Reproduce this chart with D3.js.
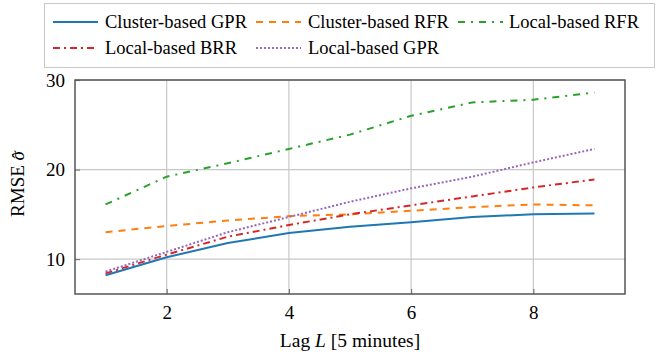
<!DOCTYPE html>
<html>
<head>
<meta charset="utf-8">
<script src="https://cdn.jsdelivr.net/npm/d3@7"></script>
<style>
  body { margin: 0; background: #fff; }
  text { font-family: "Liberation Serif", "DejaVu Serif", serif; }
</style>
</head>
<body>
<svg id="chart" width="661" height="354"></svg>
<script>
var lags = [1, 2, 3, 4, 5, 6, 7, 8, 9];

var clusterGPR = [8.2, 10.2, 11.8, 12.9, 13.6, 14.1, 14.7, 15.0, 15.1];
var clusterRFR = [13.0, 13.7, 14.3, 14.8, 15.0, 15.4, 15.8, 16.1, 16.0];
var localRFR   = [16.1, 19.2, 20.7, 22.3, 23.9, 26.0, 27.5, 27.8, 28.6];
var localBRR   = [8.4, 10.5, 12.5, 13.8, 15.0, 16.0, 17.0, 18.0, 18.9];
var localGPR   = [8.6, 10.8, 13.0, 14.7, 16.4, 17.9, 19.2, 20.8, 22.3];

var xTicks = [2, 4, 6, 8];
var yTicks = [10, 20, 30];

var series = [
  {name: "Cluster-based GPR", values: clusterGPR, color: "#1f77b4", dash: null},
  {name: "Cluster-based RFR", values: clusterRFR, color: "#ff7f0e", dash: "7,6"},
  {name: "Local-based RFR",   values: localRFR,   color: "#2ca02c", dash: "7,6,2,6"},
  {name: "Local-based BRR",   values: localBRR,   color: "#d62728", dash: "7,4,2,4"},
  {name: "Local-based GPR",   values: localGPR,   color: "#9467bd", dash: "2,2"}
];

var svg = d3.select("#chart"),
  pLeft = 75, pRight = 625, pTop = 80, pBottom = 294;

var x = d3.scaleLinear()
  .domain([0.5, 9.5])
  .range([pLeft, pRight]);

var y = d3.scaleLinear()
  .domain([6.1, 30])
  .range([pBottom, pTop]);

// grid
svg.append("g")
  .selectAll("line")
  .data(xTicks)
  .enter().append("line")
    .attr("x1", function(d){ return x(d); })
    .attr("x2", function(d){ return x(d); })
    .attr("y1", pTop)
    .attr("y2", pBottom)
    .attr("stroke", "#c8c8c8")
    .attr("stroke-width", 1.2);

svg.append("g")
  .selectAll("line")
  .data(yTicks)
  .enter().append("line")
    .attr("x1", pLeft)
    .attr("x2", pRight)
    .attr("y1", function(d){ return y(d); })
    .attr("y2", function(d){ return y(d); })
    .attr("stroke", "#c8c8c8")
    .attr("stroke-width", 1.2);

// axes with inward ticks
var xAxis = svg.append("g")
  .attr("transform", "translate(0," + pBottom + ")")
  .call(d3.axisBottom(x).tickValues(xTicks).tickSizeInner(-5).tickSizeOuter(0).tickPadding(12));

var yAxis = svg.append("g")
  .attr("transform", "translate(" + pLeft + ",0)")
  .call(d3.axisLeft(y).tickValues(yTicks).tickSizeInner(-5).tickSizeOuter(0).tickPadding(10));

[xAxis, yAxis].forEach(function(a) {
  a.select(".domain").remove();
  a.selectAll(".tick line").attr("stroke", "#7a7a7a").attr("stroke-width", 1.2);
  a.selectAll(".tick text")
    .attr("fill", "#000")
    .style("font-family", "'Liberation Serif', serif")
    .style("font-size", "19px");
});

// frame
svg.append("rect")
  .attr("x", pLeft)
  .attr("y", pTop)
  .attr("width", pRight - pLeft)
  .attr("height", pBottom - pTop)
  .attr("fill", "none")
  .attr("stroke", "#555")
  .attr("stroke-width", 1.5);

var line = d3.line()
  .x(function(d, i){ return x(lags[i]); })
  .y(function(d){ return y(d); });

svg.append("g")
  .selectAll("path")
  .data(series)
  .enter().append("path")
    .attr("d", function(d){ return line(d.values); })
    .attr("fill", "none")
    .attr("stroke", function(d){ return d.color; })
    .attr("stroke-width", 2)
    .attr("stroke-dasharray", function(d){ return d.dash; });

// axis labels
svg.append("text")
  .attr("x", (pLeft + pRight) / 2)
  .attr("y", 347)
  .attr("text-anchor", "middle")
  .style("font-size", "19.5px")
  .html("Lag <tspan font-style='italic'>L</tspan> [5 minutes]");

// y label: sigma with a hat placed above it
var yLabel = svg.append("text")
  .attr("transform", "translate(24," + ((pTop + pBottom) / 2 - 3) + ") rotate(-90)")
  .attr("text-anchor", "middle")
  .style("font-size", "19px");
yLabel.append("tspan").text("RMSE ");
yLabel.append("tspan").attr("font-style", "italic").text("σ");
yLabel.append("tspan").attr("dx", -9).attr("dy", 1).attr("font-style", "italic").text("ˆ");

// legend
var legend = svg.append("g");
legend.append("rect")
  .attr("x", 44.5)
  .attr("y", 3.5)
  .attr("width", 610)
  .attr("height", 64)
  .attr("fill", "#fff")
  .attr("stroke", "#c8c8c8")
  .attr("stroke-width", 1);

var legendPos = [
  {x: 53, y: 22}, {x: 256, y: 22}, {x: 458, y: 22},
  {x: 53, y: 48}, {x: 256, y: 48}
];

var items = legend.selectAll("g.item")
  .data(series)
  .enter().append("g")
    .attr("class", "item")
    .attr("transform", function(d, i){ return "translate(" + legendPos[i].x + "," + legendPos[i].y + ")"; });

items.append("line")
  .attr("x1", 0)
  .attr("x2", 45)
  .attr("y1", 0)
  .attr("y2", 0)
  .attr("stroke", function(d){ return d.color; })
  .attr("stroke-width", 2)
  .attr("stroke-dasharray", function(d){ return d.dash; });

items.append("text")
  .attr("x", function(d, i){ return i == 2 ? 51 : 52; })
  .attr("y", 6)
  .style("font-size", "18.5px")
  .text(function(d){ return d.name; });
</script>
</body>
</html>
